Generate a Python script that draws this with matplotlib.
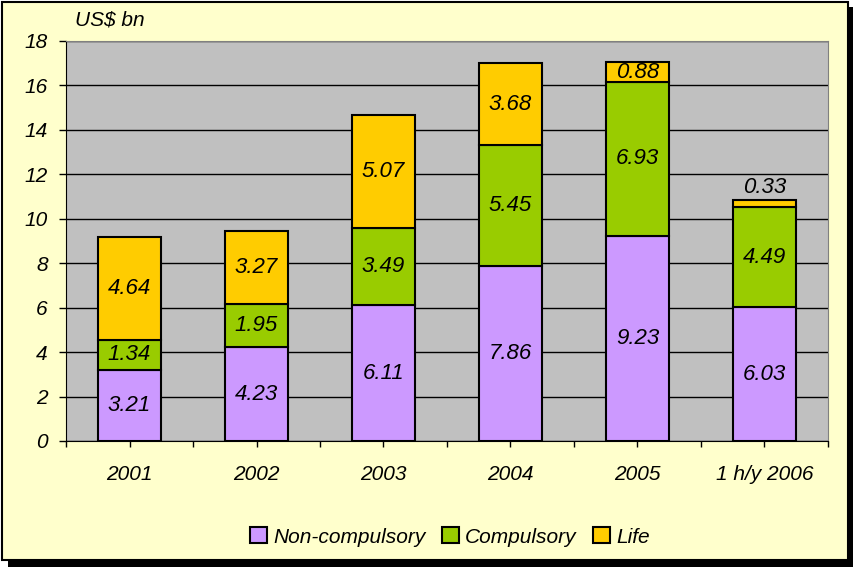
import matplotlib.pyplot as plt
import matplotlib.patches as patches
import numpy as np

plt.rcParams['font.family'] = ['Liberation Sans', 'DejaVu Sans']
plt.rcParams['font.style'] = 'italic'

# Data
years = ['2001', '2002', '2003', '2004', '2005', '1 h/y 2006']
non_compulsory = [3.21, 4.23, 6.11, 7.86, 9.23, 6.03]
compulsory = [1.34, 1.95, 3.49, 5.45, 6.93, 4.49]
life = [4.64, 3.27, 5.07, 3.68, 0.88, 0.33]

series = [('Non-compulsory', non_compulsory, '#CC99FF'),
          ('Compulsory', compulsory, '#99CC00'),
          ('Life', life, '#FFCC00')]

fig = plt.figure(figsize=(8.54, 5.67), dpi=100, facecolor='white')

# Frame with shadow
W, H = 854.0, 567.0
fig.patches.append(patches.Rectangle((8 / W, 0), 846 / W, 560 / H, transform=fig.transFigure,
                                     facecolor='black', edgecolor='none', zorder=-3))
fig.patches.append(patches.Rectangle((2 / W, 7 / H), 846 / W, 558 / H, transform=fig.transFigure,
                                     facecolor='#FFFFCC', edgecolor='black', linewidth=1.5, zorder=-2))

ax = fig.add_axes([66 / W, 126 / H, 762 / W, 400 / H])
ax.set_facecolor('#C0C0C0')

FS = 15
x = np.arange(len(years))
bottom = np.zeros(len(years))
for name, vals, color in series:
    vals = np.array(vals)
    ax.bar(x, vals, width=0.5, bottom=bottom, color=color, edgecolor='black',
           linewidth=1.5, label=name, zorder=3)
    for xi, b, v in zip(x, bottom, vals):
        if v < 0.5:
            y = b + v + 0.55
        else:
            y = b + v / 2
        ax.text(xi, y, f'{v:.2f}', ha='center', va='center', fontsize=16,
                style='italic', zorder=4)
    bottom = bottom + vals

ax.set_xlim(-0.5, len(years) - 0.5)
ax.set_ylim(0, 18)
ax.set_yticks(np.arange(0, 19, 2))
ax.yaxis.grid(True, color='black', linewidth=1)
ax.set_axisbelow(True)

ax.set_xticks(x)
ax.set_xticklabels(years)
ax.set_xticks(np.arange(-0.5, len(years), 1), minor=True)
ax.tick_params(axis='x', which='major', length=4, pad=13, labelsize=FS, width=1)
ax.tick_params(axis='x', which='minor', length=4, direction='out', width=1)
ax.tick_params(axis='y', length=5, width=1, pad=8, labelsize=FS)

ax.spines['left'].set_color('black')
ax.spines['bottom'].set_color('black')
ax.spines['top'].set_color('#808080')
ax.spines['right'].set_color('#808080')

fig.text(75 / W, 1 - 20 / H, 'US$ bn', fontsize=FS, style='italic', va='center', ha='left')

leg = fig.legend(loc='center', bbox_to_anchor=(450 / W, 1 - 537 / H), ncol=3, frameon=False,
                 fontsize=FS, handlelength=0.8, handleheight=0.8, handletextpad=0.3,
                 columnspacing=0.8)
for h in leg.legend_handles:
    h.set_linewidth(1.5)

fig.savefig('out.png', dpi=100)
